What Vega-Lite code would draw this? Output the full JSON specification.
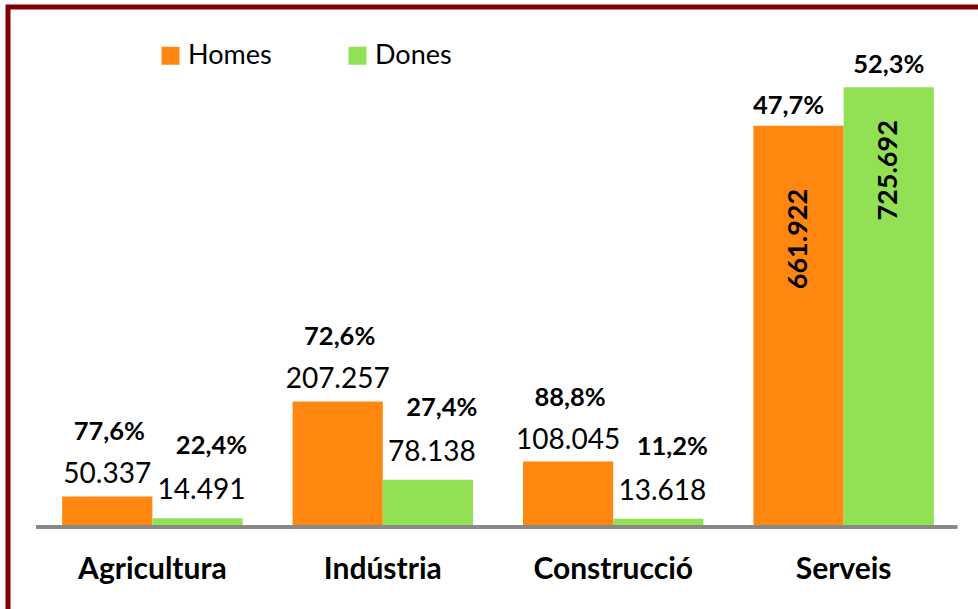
{
  "$schema": "https://vega.github.io/schema/vega-lite/v6.json",
  "width": 980,
  "height": 610,
  "autosize": {"type": "none"},
  "padding": {"left": 8, "top": 7, "right": 0, "bottom": 0},
  "background": "white",
  "config": {
    "view": {"stroke": "#840000", "strokeWidth": 5},
    "font": "Lato",
    "locale": {"number": {"decimal": ",", "thousands": ".", "grouping": [3], "currency": ["", " €"]}}
  },
  "data": {
    "values": [
      {"cat": "Agricultura", "sex": "Homes", "value": 50337, "share": 0.776},
      {"cat": "Agricultura", "sex": "Dones", "value": 14491, "share": 0.224},
      {"cat": "Indústria", "sex": "Homes", "value": 207257, "share": 0.726},
      {"cat": "Indústria", "sex": "Dones", "value": 78138, "share": 0.274},
      {"cat": "Construcció", "sex": "Homes", "value": 108045, "share": 0.888},
      {"cat": "Construcció", "sex": "Dones", "value": 13618, "share": 0.112},
      {"cat": "Serveis", "sex": "Homes", "value": 661922, "share": 0.477},
      {"cat": "Serveis", "sex": "Dones", "value": 725692, "share": 0.523}
    ]
  },
  "encoding": {
    "x": {
      "field": "cat", "type": "nominal",
      "sort": ["Agricultura", "Indústria", "Construcció", "Serveis"],
      "scale": {"paddingInner": 0.217, "paddingOuter": 0.235},
      "axis": {
        "orient": "bottom", "offset": -48, "title": null, "domain": false, "ticks": false,
        "labelAngle": 0, "labelFontSize": 30, "labelFontWeight": "bold", "labelColor": "#000000",
        "labelBaseline": "middle", "labelPadding": 0
      }
    },
    "xOffset": {"field": "sex", "type": "nominal", "sort": ["Homes", "Dones"], "scale": {"paddingInner": 0, "paddingOuter": 0}},
    "y": {"field": "value", "type": "quantitative", "scale": {"domain": [-148500, 858000], "nice": false, "zero": false}, "axis": null}
  },
  "layer": [
    {
      "mark": {"type": "bar"},
      "encoding": {
        "color": {
          "field": "sex", "type": "nominal",
          "scale": {"domain": ["Homes", "Dones"], "range": ["#FF860F", "#92E053"]},
          "legend": {
            "orient": "none", "legendX": 149, "legendY": 35, "direction": "horizontal", "title": null,
            "symbolType": "square", "symbolSize": 324, "symbolStrokeWidth": 0, "symbolOpacity": 1,
            "labelFontSize": 27, "labelOffset": 4, "columnPadding": 72, "padding": 0, "labelColor": "#000000"
          }
        }
      }
    },
    {
      "mark": {"type": "rule", "color": "#898989", "strokeWidth": 3},
      "encoding": {
        "x": {"datum": "Agricultura", "type": "nominal", "bandPosition": -0.145},
        "x2": {"datum": "Serveis", "bandPosition": 1.129},
        "xOffset": null,
        "y": {"datum": 0, "type": "quantitative"}
      }
    },
    {
      "transform": [{"filter": "datum.cat !== 'Serveis' && datum.sex === 'Homes'"}],
      "mark": {"type": "text", "fontSize": 28, "dy": -21, "baseline": "middle", "color": "#000000"},
      "encoding": {"text": {"field": "value", "type": "quantitative", "format": ",.0f"}}
    },
    {
      "transform": [{"filter": "datum.cat !== 'Serveis' && datum.sex === 'Dones'"}],
      "mark": {"type": "text", "fontSize": 28, "dy": -27, "dx": 4, "baseline": "middle", "color": "#000000"},
      "encoding": {"text": {"field": "value", "type": "quantitative", "format": ",.0f"}}
    },
    {
      "transform": [{"filter": "datum.cat !== 'Serveis' && datum.sex === 'Homes'"}],
      "mark": {"type": "text", "fontSize": 25.5, "fontWeight": "bold", "dy": -64, "dx": 2, "baseline": "middle", "color": "#000000"},
      "encoding": {"text": {"field": "share", "type": "quantitative", "format": ".1%"}}
    },
    {
      "transform": [{"filter": "datum.cat !== 'Serveis' && datum.sex === 'Dones'"}],
      "mark": {"type": "text", "fontSize": 25.5, "fontWeight": "bold", "dy": -72, "dx": 14, "baseline": "middle", "color": "#000000"},
      "encoding": {"text": {"field": "share", "type": "quantitative", "format": ".1%"}}
    },
    {
      "transform": [{"filter": "datum.cat === 'Serveis' && datum.sex === 'Homes'"}],
      "mark": {"type": "text", "fontSize": 25.5, "fontWeight": "bold", "dy": -20, "dx": -10, "baseline": "middle", "color": "#000000"},
      "encoding": {"text": {"field": "share", "type": "quantitative", "format": ".1%"}}
    },
    {
      "transform": [{"filter": "datum.cat === 'Serveis' && datum.sex === 'Dones'"}],
      "mark": {"type": "text", "fontSize": 25.5, "fontWeight": "bold", "dy": -22, "baseline": "middle", "color": "#000000"},
      "encoding": {"text": {"field": "share", "type": "quantitative", "format": ".1%"}}
    },
    {
      "transform": [{"filter": "datum.cat === 'Serveis' && datum.sex === 'Homes'"}],
      "mark": {"type": "text", "fontSize": 27, "fontWeight": "bold", "angle": 270, "align": "right", "dx": -63, "baseline": "middle", "color": "#000000"},
      "encoding": {"text": {"field": "value", "type": "quantitative", "format": ",.0f"}}
    },
    {
      "transform": [{"filter": "datum.cat === 'Serveis' && datum.sex === 'Dones'"}],
      "mark": {"type": "text", "fontSize": 27, "fontWeight": "bold", "angle": 270, "align": "right", "dx": -33, "baseline": "middle", "color": "#000000"},
      "encoding": {"text": {"field": "value", "type": "quantitative", "format": ",.0f"}}
    }
  ]
}
